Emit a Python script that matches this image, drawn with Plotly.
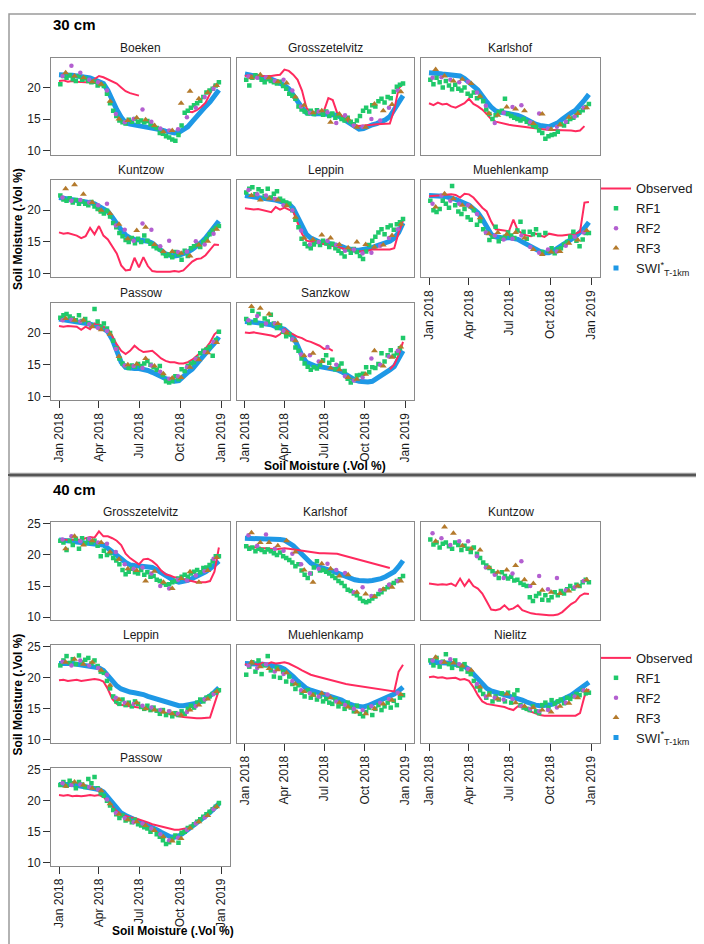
import pandas as pd
import plotly.graph_objects as go

W, H = 704, 944
N = None

# ---------------- shared axes data ----------------
line_dates = pd.date_range("2018-01-01", periods=37, freq="10D")
rf1_dates = pd.date_range("2018-01-04", periods=52, freq="7D")
rf2_dates = pd.date_range("2018-01-09", periods=18, freq="20D")
rf3_dates = pd.date_range("2018-01-16", periods=18, freq="20D")

tick_dates = ["2018-01-01", "2018-04-01", "2018-07-01", "2018-10-01", "2019-01-01"]
tick_labels = ["Jan 2018", "Apr 2018", "Jul 2018", "Oct 2018", "Jan 2019"]
y_ticks_30 = [10, 15, 20]
y_ticks_40 = [10, 15, 20, 25]
series_names = ["Observed", "RF1", "RF2", "RF3", "SWI<sup>*</sup><sub>T-1km</sub>"]

# ---------------- 30 cm ----------------
boeken30_swi = [22.0, 22.0, 22.0, 21.9, 21.8, 21.7, 21.6, 21.5, 21.2, 21.0, 20.6, 19.5, 17.8, 16.5, 15.3, 14.4, 14.2, 14.1, 14.0, 13.9, 13.8, 13.6, 13.5, 13.3, 13.1, 13.0, 12.8, 12.9, 13.3, 13.8, 14.6, 15.5, 16.3, 17.0, 17.7, 18.7, 19.6]
boeken30_obs = [21.0, 21.1, 20.9, 21.0, 20.9, 20.8, 20.8, 20.8, 21.3, 21.8, 21.6, 21.3, 21.0, 20.6, 20.0, 19.4, 19.1, 18.9, 18.7, N, N, N, N, N, N, N, N, N, N, 16.2, 16.1, 16.4, 16.9, 17.6, 19.0, 20.4, 20.3]
boeken30_rf1 = [20.5, 21.8, 21.5, 21.9, 21.3, 21.0, 21.8, 21.2, 21.4, 21.0, 20.8, 20.9, 20.3, 20.5, 20.2, 19.0, 17.5, 16.3, 15.5, 14.8, 14.5, 14.3, 14.9, 14.6, 15.0, 14.6, 14.8, 14.5, 14.7, 14.2, 13.9, 13.6, 12.8, 12.7, 12.3, 12.1, 11.8, 11.6, 12.5, 14.0, 16.0, 16.3, 16.8, 17.2, 17.5, 17.9, 18.5, 19.2, 19.5, 19.8, 20.3, 20.8]
boeken30_rf2 = [21.8, 23.4, 22.3, 21.2, 20.8, 19.5, 15.8, 14.5, 15.0, 16.5, 14.6, 13.5, 13.2, 13.4, 15.3, 16.8, 18.5, 19.8]
boeken30_rf3 = [22.3, 21.8, 21.5, 20.9, 20.5, 17.8, 15.0, 14.8, 15.2, 14.9, 14.0, 13.0, 13.2, 17.5, 19.4, 18.2, 19.2, 20.3]

grossz30_swi = [22.1, 22.0, 21.9, 21.8, 21.7, 21.6, 21.3, 21.0, 20.7, 20.3, 19.8, 18.8, 17.6, 16.8, 16.0, 15.8, 15.8, 15.9, 15.8, 15.8, 15.7, 15.6, 15.2, 14.7, 14.3, 13.8, 13.4, 13.5, 13.9, 14.1, 14.3, 14.5, 14.9, 15.4, 16.5, 17.5, 18.7]
grossz30_obs = [21.8, 21.9, 21.8, 21.8, 21.7, 21.8, 21.8, 21.9, 22.0, 22.8, 22.6, 22.0, 21.2, 19.5, 16.8, 16.0, 16.0, 16.1, 16.3, 18.3, 18.0, 16.0, 15.5, 14.9, 14.4, 14.1, 13.9, 14.0, 14.0, 14.1, 14.2, 14.2, 14.3, 14.3, 16.5, 19.8, 20.6]
grossz30_rf1 = [21.2, 20.3, 21.5, 21.9, 21.6, 21.2, 20.8, 21.3, 21.0, 20.8, 20.6, 20.9, 20.2, 19.8, 19.0, 18.7, 18.2, 17.0, 16.5, 16.2, 15.9, 16.3, 15.8, 16.4, 16.0, 15.7, 16.2, 15.5, 15.9, 15.2, 15.6, 15.0, 14.8, 15.2, 14.6, 14.2, 14.8, 15.5, 16.3, 16.8, 16.2, 17.2, 17.0, 17.8, 18.2, 17.6, 18.5, 18.3, 19.3, 20.1, 20.4, 20.6]
grossz30_rf2 = [21.7, 21.5, 21.6, 21.0, 21.2, 19.5, 17.0, 16.0, 16.2, 16.1, 14.4, 15.6, 14.0, 13.8, 15.0, 14.8, 16.8, 19.5]
grossz30_rf3 = [21.5, 22.0, 21.5, 20.9, 20.7, 18.5, 17.2, 16.0, 16.3, 14.5, 15.8, 15.0, 13.7, 13.7, 17.4, 16.3, 17.3, 19.3]

karls30_swi = [22.3, 22.3, 22.2, 22.1, 22.0, 21.9, 21.9, 21.8, 21.4, 20.7, 20.2, 19.6, 18.5, 17.7, 16.9, 16.3, 16.1, 16.0, 15.9, 15.8, 15.6, 15.3, 14.9, 14.5, 14.2, 14.0, 13.8, 13.8, 14.1, 14.4, 15.0, 15.6, 16.0, 16.4, 17.1, 18.0, 18.9]
karls30_obs = [17.5, 17.2, 17.6, 17.3, 17.4, 17.0, 16.8, 17.2, 17.5, 18.2, 17.4, 17.0, 16.5, 15.8, 15.0, 14.6, 14.4, 14.2, 14.1, 14.0, 13.9, 13.8, 13.7, 13.6, 13.5, 13.4, 13.3, 13.3, 13.3, 13.3, 13.2, 13.2, 13.2, 13.1, 13.2, 13.9, N]
karls30_rf1 = [21.2, 20.5, 21.5, 20.8, 20.0, 21.0, 20.3, 19.7, 20.4, 19.8, 19.5, 20.0, 19.0, 18.7, 19.2, 18.3, 18.5, 17.8, 16.5, 15.8, 15.0, 15.6, 16.1, 16.3, 18.2, 15.8, 15.5, 15.2, 15.0, 14.8, 15.0, 14.6, 14.3, 14.0, 13.8, 13.2, 12.8, 11.9, 12.3, 12.5, 12.6, 13.0, 14.2, 14.0, 14.6, 15.0, 15.2, 15.6, 16.1, 16.4, 16.9, 17.4]
karls30_rf2 = [21.5, 21.6, 21.2, 20.8, 20.9, 19.2, 17.1, 14.4, 16.0, 16.9, 17.2, 14.5, 15.9, 13.5, 13.8, 14.6, 15.4, 16.8]
karls30_rf3 = [22.8, 21.8, 21.0, 21.3, 20.6, 18.6, 15.9, 15.6, 16.9, 16.6, 16.3, 14.3, 15.8, 13.4, 14.1, 15.3, 15.9, 16.8]

kuntz30_swi = [22.0, 21.9, 21.8, 21.7, 21.6, 21.5, 21.3, 21.2, 21.0, 20.6, 20.3, 19.8, 18.9, 17.8, 16.9, 16.1, 15.6, 15.4, 15.3, 15.2, 15.1, 14.8, 14.2, 13.6, 13.1, 12.9, 12.8, 12.9, 13.1, 13.4, 13.8, 14.3, 14.9, 15.6, 16.5, 17.3, 18.3]
kuntz30_obs = [16.5, 16.3, 16.4, 16.2, 16.0, 15.6, 15.9, 17.2, 16.2, 17.5, 16.0, 15.4, 14.2, 13.2, 11.3, 10.5, 10.6, 12.5, 11.0, 12.6, 11.2, 10.4, 10.3, 10.3, 10.2, 10.3, 10.4, 10.3, 10.5, 11.2, 11.9, 12.3, 12.4, 12.9, 13.8, 14.6, 14.5]
kuntz30_rf1 = [22.3, 21.7, 21.5, 21.9, 21.2, 21.6, 21.0, 21.4, 21.0, 20.8, 21.3, 20.6, 20.2, 19.8, 19.5, 19.9, 19.0, 18.0, 17.3, 16.4, 15.9, 15.3, 15.0, 15.6, 14.8, 15.5, 15.0, 16.0, 15.2, 14.7, 14.3, 14.0, 13.8, 13.2, 12.8, 13.0, 12.6, 13.4, 13.0, 12.2, 13.6, 12.8, 14.0, 14.3, 14.6, 14.2, 15.0, 15.5, 16.2, 16.8, 17.2, 17.5]
kuntz30_rf2 = [22.0, 21.5, 21.6, 21.2, 20.8, 21.0, 17.6, 16.9, 15.2, 17.9, 16.9, 14.3, 15.2, 13.4, 13.5, 15.1, 14.6, 16.3]
kuntz30_rf3 = [23.4, 24.0, 22.5, 21.2, 20.0, 19.5, 17.8, 15.5, 16.8, 17.3, 14.6, 13.5, 13.5, 13.2, 12.8, 14.5, 15.1, 17.0]

leppin30_swi = [22.3, 22.2, 22.2, 22.1, 22.0, 21.9, 21.8, 21.6, 21.4, 21.2, 21.0, 20.3, 18.9, 17.4, 16.2, 15.6, 15.2, 15.0, 14.9, 14.8, 14.7, 14.6, 14.3, 14.0, 13.8, 13.7, 13.7, 13.8, 13.9, 14.1, 14.4, 14.6, 14.8, 15.1, 15.6, 16.5, 18.0]
leppin30_obs = [20.3, 20.2, 20.1, 20.2, 20.0, 19.8, 19.7, 20.5, 20.1, 20.4, 20.1, 19.8, 18.0, 16.3, 15.2, 15.0, 14.9, 14.8, 14.7, 14.5, 14.4, 14.2, 14.0, 13.8, 13.6, 13.5, 13.5, 13.5, 13.6, 13.8, 13.8, 13.8, 13.8, 13.8, 14.0, 16.5, 18.3]
leppin30_rf1 = [22.8, 23.4, 23.6, 22.5, 23.3, 23.0, 22.2, 23.4, 22.0, 22.6, 23.0, 21.8, 21.5, 21.2, 21.0, 20.0, 18.5, 17.3, 15.5, 14.7, 14.3, 14.0, 14.6, 15.0, 14.5, 15.2, 14.8, 14.2, 14.7, 14.0, 13.6, 13.2, 12.7, 13.8, 13.3, 13.9, 13.4, 12.8, 12.3, 13.5, 14.5, 15.2, 15.8, 16.5, 17.0, 16.2, 17.3, 17.6, 16.9, 17.8, 18.1, 18.6]
leppin30_rf2 = [23.2, 22.5, 22.3, 21.8, 20.8, 20.0, 16.8, 14.6, 15.0, 15.2, 14.5, 13.6, 13.8, 13.2, 13.3, 14.4, 15.6, 17.0]
leppin30_rf3 = [22.3, 21.6, 21.8, 21.6, 20.7, 18.9, 15.6, 15.4, 16.1, 15.6, 14.6, 14.1, 15.0, 14.6, 14.2, 14.5, 16.0, 17.8]

muehl30_swi = [22.3, 22.3, 22.3, 22.2, 22.1, 22.0, 21.7, 21.4, 21.1, 20.8, 20.2, 19.6, 18.6, 17.2, 16.2, 15.8, 15.6, 15.6, 15.7, 15.6, 15.4, 15.0, 14.6, 14.2, 13.8, 13.5, 13.3, 13.3, 13.6, 14.0, 14.5, 15.0, 15.4, 15.9, 16.5, 17.2, 18.1]
muehl30_obs = [22.2, 22.2, 22.3, 22.4, 22.5, 22.5, 22.4, 22.0, 22.6, 22.5, 22.0, 21.2, 20.4, 19.8, 18.2, 17.0, 16.9, 16.8, 16.7, 18.5, 16.8, 16.3, 16.0, 15.9, 16.3, 16.0, 15.8, 16.3, 16.1, 16.0, 16.0, 16.1, 16.2, 16.3, 16.6, 21.2, 21.3]
muehl30_rf1 = [21.5, 20.0, 19.7, 20.2, 21.5, 21.0, 20.4, 23.8, 20.8, 19.8, 19.4, 20.2, 18.9, 18.5, 20.0, 17.7, 18.3, 17.0, 16.5, 15.3, 15.8, 17.4, 15.1, 15.5, 15.8, 16.5, 16.0, 15.6, 16.8, 18.2, 16.6, 15.5, 16.6, 16.2, 17.0, 16.1, 13.4, 16.4, 13.6, 14.0, 13.2, 13.8, 14.0, 14.6, 15.0, 15.8, 16.6, 15.2, 14.3, 15.4, 16.4, 16.4]
muehl30_rf2 = [21.0, 22.3, 21.5, 21.0, 20.8, 19.4, 16.5, 16.0, 15.4, 15.5, 16.0, 14.2, 13.3, 13.8, 13.5, 14.4, 15.8, 16.5]
muehl30_rf3 = [20.5, 22.6, 21.8, 20.8, 20.5, 18.8, 16.3, 16.5, 16.2, 16.5, 15.6, 13.8, 13.0, 13.4, 13.5, 14.8, 15.3, 16.8]

passow30_swi = [22.2, 22.1, 22.0, 21.9, 21.8, 21.7, 21.6, 21.4, 21.2, 21.0, 20.7, 20.2, 19.0, 17.2, 15.4, 14.6, 14.4, 14.4, 14.4, 14.3, 14.1, 13.8, 13.4, 13.1, 12.8, 12.6, 12.4, 12.5, 13.2, 13.8, 14.3, 15.2, 16.0, 16.8, 17.6, 18.4, 19.4]
passow30_obs = [21.1, 21.0, 21.1, 21.0, 21.0, 20.5, 21.0, 20.6, 21.5, 21.4, 21.0, 20.6, 19.5, 18.2, 17.2, 16.7, 17.2, 18.0, 17.4, 17.0, 17.1, 17.2, 16.6, 16.0, 15.6, 15.4, 15.4, 15.2, 15.2, 15.4, 15.8, 16.4, 17.0, 17.6, 18.5, 19.8, 20.4]
passow30_rf1 = [22.4, 22.8, 23.0, 22.6, 22.3, 22.0, 22.8, 21.9, 22.2, 21.6, 21.2, 23.8, 21.8, 21.0, 21.5, 20.7, 20.0, 18.8, 17.6, 16.0, 15.2, 14.8, 14.5, 14.9, 14.7, 15.1, 14.8, 15.2, 15.6, 15.0, 14.6, 14.2, 14.8, 13.4, 12.4, 12.2, 12.4, 13.2, 12.7, 14.3, 14.0, 14.8, 15.2, 15.4, 16.0, 16.8, 17.2, 17.4, 17.8, 16.4, 18.9, 20.2]
passow30_rf2 = [22.0, 22.1, 21.8, 21.4, 20.8, 20.3, 17.5, 14.9, 14.8, 14.5, 14.9, 13.9, 12.8, 13.2, 14.6, 15.9, 17.0, 18.6]
passow30_rf3 = [22.3, 22.0, 22.0, 21.0, 20.5, 19.8, 16.3, 15.0, 15.1, 16.0, 14.8, 13.6, 12.9, 13.0, 14.6, 15.8, 16.9, 18.5]

sanzk30_swi = [21.8, 21.8, 21.7, 21.6, 21.5, 21.4, 21.3, 21.0, 20.7, 20.6, 20.0, 19.4, 18.0, 16.4, 15.4, 15.0, 14.8, 14.7, 14.6, 14.6, 14.4, 14.2, 13.9, 13.4, 12.9, 12.6, 12.4, 12.3, 12.3, 12.4, 12.8, 13.3, 13.7, 14.2, 14.7, 15.8, 17.2]
sanzk30_obs = [20.1, 20.0, 20.1, 20.0, 19.9, 19.8, 19.6, 19.4, 19.8, 20.6, 20.1, 19.8, 19.4, 19.2, 18.8, 18.6, 18.3, 18.0, 17.5, 17.6, 17.2, N, N, N, N, N, N, N, N, N, N, N, N, 14.3, 15.0, 16.5, 18.6]
sanzk30_rf1 = [22.2, 21.6, 23.5, 22.0, 23.0, 21.2, 22.3, 21.8, 22.9, 21.5, 20.8, 21.2, 20.2, 19.5, 19.8, 19.0, 17.7, 17.2, 16.0, 15.2, 14.7, 14.2, 14.6, 14.4, 15.0, 15.7, 16.5, 15.3, 15.8, 14.3, 14.8, 15.2, 14.0, 12.8, 12.2, 12.6, 13.3, 13.4, 13.6, 14.6, 13.8, 14.6, 14.5, 15.1, 16.8, 15.5, 16.5, 17.3, 16.4, 16.8, 17.6, 19.2]
sanzk30_rf2 = [22.0, 22.7, 21.5, 21.5, 20.3, 19.0, 16.6, 16.5, 15.5, 17.8, 15.0, 13.2, 12.5, 13.0, 16.0, 15.0, 16.3, 17.2]
sanzk30_rf3 = [24.2, 23.9, 23.0, 21.5, 20.0, 18.8, 16.4, 16.8, 15.5, 14.5, 14.2, 13.0, 12.7, 13.5, 17.2, 14.8, 16.2, 17.8]

# ---------------- 40 cm ----------------
grossz40_swi = [22.4, 22.4, 22.3, 22.2, 22.1, 22.0, 21.9, 21.9, 21.8, 21.8, 21.6, 21.1, 20.6, 20.0, 19.4, 18.8, 18.4, 18.3, 18.2, 18.2, 18.1, 18.0, 17.6, 17.1, 16.7, 16.2, 15.8, 15.6, 15.7, 15.9, 16.2, 16.5, 16.8, 17.3, 17.8, 18.4, 19.0]
grossz40_obs = [22.4, 22.4, 22.5, 22.5, 22.4, 22.5, 22.7, 22.9, 22.8, 23.8, 23.0, 23.0, 22.7, 22.3, 21.6, 20.2, 19.5, 19.0, 18.5, 19.3, 19.4, 19.0, 18.4, 17.5, 16.9, 16.7, 16.4, 16.3, 16.1, 16.0, 15.8, 15.6, 15.6, 15.6, 15.8, 17.3, 21.2]
grossz40_rf1 = [22.3, 22.0, 20.8, 22.3, 21.6, 22.6, 21.0, 22.7, 21.9, 22.5, 22.0, 22.3, 21.5, 19.8, 20.7, 20.0, 20.3, 19.5, 19.1, 18.5, 17.6, 16.9, 17.3, 17.8, 17.2, 17.0, 17.6, 16.8, 17.2, 16.5, 16.6, 16.0, 15.8, 15.5, 15.2, 15.3, 15.6, 15.8, 16.2, 16.5, 16.8, 16.5, 17.0, 17.3, 17.6, 17.2, 17.9, 18.0, 18.4, 19.0, 19.8, 19.8]
grossz40_rf2 = [22.5, 23.0, 22.2, 22.6, 22.0, 21.8, 20.5, 18.5, 17.8, 18.0, 17.0, 15.0, 14.6, 16.0, 15.9, 16.7, 17.4, 19.4]
grossz40_rf3 = [21.0, 23.0, 21.6, 22.3, 22.0, 20.5, 19.3, 17.8, 17.5, 15.8, 17.4, 15.6, 14.6, 16.2, 17.3, 15.6, 17.5, 19.6]

karls40_swi = [22.7, 22.7, 22.7, 22.7, 22.7, 22.7, 22.6, 22.6, 22.5, 22.4, 22.0, 21.5, 20.8, 20.0, 19.2, 18.7, 18.3, 18.0, 17.8, 17.6, 17.4, 17.1, 16.9, 16.6, 16.3, 16.0, 15.9, 15.8, 15.8, 15.9, 16.0, 16.2, 16.5, 16.9, 17.3, 18.1, 19.1]
karls40_obs = [21.4, 21.3, 21.3, 21.2, 21.1, 21.1, 21.0, 20.9, 21.0, 21.1, 21.0, 20.9, 20.8, 20.6, 20.5, 20.4, 20.3, 20.3, 20.3, 20.3, 20.3, 20.2, 20.0, 19.8, 19.6, 19.4, 19.2, 19.0, 18.8, 18.6, 18.4, 18.3, 18.1, 17.9, N, N, N]
karls40_rf1 = [21.4, 21.0, 21.2, 20.6, 21.0, 20.8, 20.5, 20.9, 20.6, 20.3, 20.0, 20.4, 19.8, 19.5, 19.2, 18.8, 18.2, 18.5, 17.5, 16.8, 16.3, 17.0, 18.0, 19.0, 17.5, 17.6, 17.3, 17.0, 16.6, 16.3, 15.8, 15.5, 15.0, 14.4, 14.2, 13.8, 13.5, 13.0, 12.6, 12.4, 12.6, 13.0, 13.3, 13.7, 14.0, 14.5, 14.8, 15.2, 15.5, 15.8, 16.1, 16.6]
karls40_rf2 = [23.2, 21.5, 23.3, 21.0, 20.7, 20.2, 18.5, 17.0, 17.8, 18.6, 17.6, 17.1, 14.0, 14.8, 13.4, 14.3, 15.2, 15.8]
karls40_rf3 = [23.6, 22.0, 22.0, 21.5, 22.3, 20.5, 17.6, 15.6, 18.6, 17.8, 16.6, 16.8, 14.0, 13.7, 13.3, 14.5, 14.8, 15.8]

kuntz40_swi = [N] * 37
kuntz40_obs = [15.4, 15.3, 15.2, 15.3, 15.2, 15.4, 15.0, 16.2, 15.0, 16.0, 15.0, 14.6, 13.8, 12.5, 11.2, 11.1, 11.3, 11.9, 11.2, 11.4, 11.9, 11.1, 10.8, 10.6, 10.5, 10.4, 10.4, 10.3, 10.3, 10.4, 10.8, 11.5, 12.1, 12.5, 13.4, 13.8, 13.7]
kuntz40_rf1 = [22.5, 21.7, 22.0, 21.2, 21.8, 22.0, 21.4, 21.0, 22.0, 21.6, 20.8, 21.5, 21.0, 20.5, 21.2, 20.2, 19.5, 18.8, 18.3, 17.9, 17.4, 17.0, 16.3, 17.2, 16.6, 16.2, 16.5, 15.9, 16.0, 15.5, 15.2, 15.0, 13.2, 12.6, 13.4, 13.8, 12.8, 13.5, 12.7, 13.2, 14.0, 13.5, 14.2, 13.8, 14.5, 15.0, 14.6, 15.2, 15.0, 15.6, 16.0, 15.6]
kuntz40_rf2 = [23.5, 22.7, 21.6, 22.2, 22.2, 19.8, 18.0, 16.8, 16.3, 17.0, 19.0, 15.0, 16.6, 14.5, 16.3, 14.3, 14.8, 15.8]
kuntz40_rf3 = [22.2, 24.5, 23.5, 21.5, 21.0, 20.8, 18.0, 17.2, 17.6, 18.3, 16.0, 15.4, 14.3, 14.0, 13.8, 14.2, 15.0, 16.0]

leppin40_swi = [22.3, 22.4, 22.3, 22.3, 22.2, 22.1, 22.0, 21.9, 21.8, 21.6, 21.2, 20.4, 19.5, 18.7, 18.2, 17.9, 17.7, 17.6, 17.5, 17.3, 17.0, 16.8, 16.6, 16.3, 16.0, 15.8, 15.6, 15.5, 15.5, 15.6, 15.7, 15.9, 16.2, 16.6, 17.1, 17.7, 18.4]
leppin40_obs = [19.6, 19.7, 19.5, 19.6, 19.7, 19.5, 19.6, 19.6, 19.8, 19.7, 19.4, 18.2, 16.6, 15.8, 15.6, 15.5, 15.4, 15.3, 15.3, 15.2, 15.0, 14.9, 14.7, 14.5, 14.3, 14.1, 13.9, 13.8, 13.7, 13.6, 13.6, 13.5, 13.5, 13.5, 13.6, 15.8, 18.0]
leppin40_rf1 = [22.0, 22.8, 23.5, 22.4, 23.0, 22.2, 23.6, 22.5, 22.9, 23.2, 22.3, 22.8, 21.9, 21.0, 20.8, 19.5, 18.3, 17.0, 16.2, 15.8, 16.5, 15.6, 16.0, 15.4, 16.2, 15.8, 15.3, 15.0, 15.5, 14.8, 15.2, 14.7, 14.2, 14.8, 14.0, 14.5, 13.8, 14.3, 14.0, 14.6, 14.2, 15.0, 15.5, 15.2, 16.0, 16.5, 16.2, 16.8, 17.0, 17.4, 17.6, 18.0]
leppin40_rf2 = [22.6, 22.0, 22.8, 22.0, 21.6, 20.5, 16.8, 16.0, 15.8, 15.5, 15.2, 14.8, 14.6, 14.2, 14.5, 15.4, 16.5, 17.4]
leppin40_rf3 = [22.5, 23.0, 22.2, 22.5, 21.2, 18.8, 16.5, 15.8, 16.0, 15.0, 14.8, 14.5, 14.2, 14.0, 14.8, 15.6, 16.6, 17.8]

muehl40_swi = [22.3, 22.3, 22.4, 22.3, 22.2, 22.1, 22.0, 21.9, 21.7, 21.4, 20.9, 20.2, 19.5, 18.8, 18.3, 18.0, 17.8, 17.6, 17.4, 17.2, 17.0, 16.7, 16.4, 16.0, 15.7, 15.5, 15.4, 15.3, 15.5, 15.8, 16.1, 16.4, 16.7, 17.0, 17.4, 17.9, 18.5]
muehl40_obs = [22.2, 22.0, 22.3, 22.1, 22.4, 22.2, 22.5, 22.3, 22.4, 22.5, 22.3, 22.0, 21.6, 21.2, 20.8, 20.5, 20.3, 20.1, 19.9, 19.7, 19.5, 19.3, 19.1, 19.0, 18.9, 18.8, 18.6, 18.5, 18.4, 18.3, 18.2, 18.1, 18.0, 17.9, 17.8, 21.0, 22.1]
muehl40_rf1 = [20.5, 21.8, 22.5, 21.0, 22.8, 20.6, 22.0, 23.5, 21.2, 20.2, 21.6, 20.0, 21.0, 19.4, 20.2, 19.0, 18.2, 18.8, 17.6, 17.0, 18.0, 16.8, 17.3, 16.5, 17.0, 16.2, 16.6, 16.0, 15.8, 16.5, 15.4, 15.8, 15.0, 16.0, 15.2, 14.6, 15.5, 14.2, 13.8, 14.5, 15.2, 14.0, 15.0, 15.6, 14.8, 15.4, 16.0, 15.2, 16.3, 15.6, 16.8, 17.2]
muehl40_rf2 = [22.0, 21.6, 22.2, 21.0, 20.6, 19.5, 18.0, 17.5, 17.0, 17.3, 16.2, 15.6, 15.0, 14.8, 15.4, 16.0, 16.6, 17.6]
muehl40_rf3 = [22.5, 21.8, 21.5, 21.3, 20.8, 19.0, 17.8, 17.2, 17.5, 16.8, 16.0, 15.3, 14.5, 14.2, 15.0, 15.8, 16.4, 17.3]

nielitz40_swi = [22.5, 22.5, 22.6, 22.5, 22.4, 22.3, 22.2, 22.0, 21.8, 21.4, 20.6, 19.8, 19.0, 18.3, 17.9, 17.7, 17.5, 17.3, 17.2, 17.0, 16.7, 16.4, 16.1, 15.8, 15.6, 15.5, 15.5, 15.6, 15.8, 16.1, 16.4, 16.8, 17.2, 17.7, 18.2, 18.7, 19.3]
nielitz40_obs = [20.1, 20.2, 20.0, 20.1, 19.9, 20.0, 20.0, 19.7, 19.8, 19.5, 18.5, 17.2, 16.2, 15.8, 15.7, 15.6, 15.4, 15.3, 15.0, 14.8, 15.4, 15.3, 14.8, 14.5, 14.2, 14.0, 13.9, 13.9, 13.9, 13.9, 13.9, 13.9, 13.9, 13.9, 14.3, 17.0, 18.2]
nielitz40_rf1 = [22.8, 22.0, 23.2, 21.8, 22.6, 23.8, 22.2, 21.6, 22.8, 22.0, 21.4, 22.2, 21.0, 20.6, 19.5, 18.6, 18.0, 17.4, 16.8, 17.5, 16.2, 17.0, 16.5, 17.5, 16.2, 17.6, 16.0, 17.3, 18.0, 15.6, 15.2, 15.0, 14.8, 15.4, 14.6, 14.3, 15.6, 16.0, 15.2, 16.4, 15.8, 16.2, 16.5, 15.9, 16.8, 16.6, 17.0, 17.4, 17.2, 18.0, 17.5, 17.6]
nielitz40_rf2 = [22.8, 22.5, 23.0, 22.2, 21.4, 19.0, 17.0, 16.8, 16.5, 16.6, 15.4, 15.0, 14.6, 14.8, 15.2, 16.0, 17.0, 18.0]
nielitz40_rf3 = [23.3, 22.5, 22.4, 21.9, 21.2, 18.5, 17.2, 16.6, 17.4, 16.0, 15.4, 15.2, 14.8, 14.5, 15.4, 15.9, 16.8, 17.9]

passow40_swi = [22.6, 22.7, 22.6, 22.6, 22.5, 22.4, 22.3, 22.1, 22.0, 21.8, 21.4, 20.6, 19.6, 18.7, 18.0, 17.6, 17.3, 17.0, 16.7, 16.4, 16.1, 15.7, 15.3, 14.9, 14.5, 14.2, 14.1, 14.3, 14.8, 15.3, 15.8, 16.3, 16.9, 17.5, 18.1, 18.8, 19.5]
passow40_obs = [20.9, 20.8, 20.9, 20.7, 20.8, 20.7, 20.8, 20.9, 20.8, 20.9, 20.6, 19.8, 19.0, 18.3, 17.8, 17.5, 17.3, 17.2, 17.0, 16.8, 16.5, 16.2, 16.0, 15.8, 15.6, 15.4, 15.3, 15.3, 15.4, 15.6, 16.0, 16.5, 17.0, 17.6, 18.3, 19.0, 19.6]
passow40_rf1 = [22.5, 23.0, 22.4, 23.2, 22.8, 22.0, 23.0, 22.6, 22.2, 23.5, 22.8, 23.8, 22.0, 21.2, 20.8, 20.0, 19.2, 18.5, 17.8, 17.2, 17.6, 16.8, 17.0, 16.5, 16.9, 16.2, 16.0, 15.7, 15.5, 15.0, 15.3, 14.6, 14.2, 13.6, 13.0, 13.3, 13.8, 14.4, 13.2, 14.8, 15.0, 15.6, 15.8, 16.2, 16.6, 17.0, 17.4, 17.8, 18.2, 18.6, 19.0, 19.6]
passow40_rf2 = [22.8, 22.5, 22.6, 22.2, 21.8, 20.2, 18.0, 17.2, 16.5, 16.3, 15.5, 14.6, 13.6, 14.0, 15.3, 16.3, 17.3, 18.6]
passow40_rf3 = [22.3, 23.0, 22.5, 22.0, 21.6, 19.5, 17.8, 16.9, 16.6, 16.0, 15.2, 14.2, 13.5, 13.9, 15.6, 16.6, 17.6, 19.0]

# ---------------- panel definitions ----------------
panel30 = [
    ("Boeken", 0, 0, boeken30_obs, boeken30_rf1, boeken30_rf2, boeken30_rf3, boeken30_swi),
    ("Grosszetelvitz", 0, 1, grossz30_obs, grossz30_rf1, grossz30_rf2, grossz30_rf3, grossz30_swi),
    ("Karlshof", 0, 2, karls30_obs, karls30_rf1, karls30_rf2, karls30_rf3, karls30_swi),
    ("Kuntzow", 1, 0, kuntz30_obs, kuntz30_rf1, kuntz30_rf2, kuntz30_rf3, kuntz30_swi),
    ("Leppin", 1, 1, leppin30_obs, leppin30_rf1, leppin30_rf2, leppin30_rf3, leppin30_swi),
    ("Muehlenkamp", 1, 2, muehl30_obs, muehl30_rf1, muehl30_rf2, muehl30_rf3, muehl30_swi),
    ("Passow", 2, 0, passow30_obs, passow30_rf1, passow30_rf2, passow30_rf3, passow30_swi),
    ("Sanzkow", 2, 1, sanzk30_obs, sanzk30_rf1, sanzk30_rf2, sanzk30_rf3, sanzk30_swi),
]
panel40 = [
    ("Grosszetelvitz", 0, 0, grossz40_obs, grossz40_rf1, grossz40_rf2, grossz40_rf3, grossz40_swi),
    ("Karlshof", 0, 1, karls40_obs, karls40_rf1, karls40_rf2, karls40_rf3, karls40_swi),
    ("Kuntzow", 0, 2, kuntz40_obs, kuntz40_rf1, kuntz40_rf2, kuntz40_rf3, kuntz40_swi),
    ("Leppin", 1, 0, leppin40_obs, leppin40_rf1, leppin40_rf2, leppin40_rf3, leppin40_swi),
    ("Muehlenkamp", 1, 1, muehl40_obs, muehl40_rf1, muehl40_rf2, muehl40_rf3, muehl40_swi),
    ("Nielitz", 1, 2, nielitz40_obs, nielitz40_rf1, nielitz40_rf2, nielitz40_rf3, nielitz40_swi),
    ("Passow", 2, 0, passow40_obs, passow40_rf1, passow40_rf2, passow40_rf3, passow40_swi),
]

# ---------------- styling ----------------
FONT = "Liberation Sans, Arial, sans-serif"
C_OBS = "#FF2A5E"
C_RF1 = "#1FC96A"
C_RF2 = "#B35FD0"
C_RF3 = "#B47A2C"
C_SWI = "#1E98E6"
FRAME = "#8a8a8a"
TXT = "#1a1a1a"

COLS = [(43, 222), (229, 406), (413, 592)]
ROWS30 = [(45, 143), (169, 267), (293, 391)]
ROWS40 = [(514, 613), (638, 737), (762, 861)]
XRANGE = ["2017-12-14", "2019-01-21"]


def px(v):
    return v / W


def py(v):
    return 1 - v / H


fig = go.Figure()
layout = {}
annotations = []
k = 0

for panel, rows, yrange, yticks, legname in [
    (panel30, ROWS30, [9.4, 24.7], y_ticks_30, "legend"),
    (panel40, ROWS40, [9.5, 25.3], y_ticks_40, "legend2"),
]:
    occupied = {(r, c) for (_, r, c, *_rest) in panel}
    first = True
    for name, r, c, obs, rf1, rf2, rf3, swi in panel:
        k += 1
        xa = "x" if k == 1 else f"x{k}"
        ya = "y" if k == 1 else f"y{k}"
        xkey = "xaxis" if k == 1 else f"xaxis{k}"
        ykey = "yaxis" if k == 1 else f"yaxis{k}"
        x0, x1 = COLS[c]
        y0, y1 = rows[r]
        bottom = (r + 1, c) not in occupied
        left = c == 0
        layout[xkey] = dict(
            domain=[px(x0), px(x1)], anchor=ya, type="date", range=XRANGE,
            showline=True, mirror=True, linecolor=FRAME, linewidth=1,
            showgrid=False, zeroline=False,
            tickmode="array", tickvals=tick_dates, ticktext=tick_labels,
            ticks="outside" if bottom else "", ticklen=7, tickcolor="#333",
            showticklabels=bottom, tickangle=-90,
            tickfont=dict(family=FONT, size=12, color=TXT),
        )
        layout[ykey] = dict(
            domain=[py(y1), py(y0)], anchor=xa, range=yrange,
            showline=True, mirror=True, linecolor=FRAME, linewidth=1,
            showgrid=False, zeroline=False,
            tickmode="array", tickvals=yticks,
            ticks="outside" if left else "", ticklen=7, tickcolor="#333",
            showticklabels=left,
            tickfont=dict(family=FONT, size=12, color=TXT),
        )
        annotations.append(dict(
            text=name, x=px((x0 + x1) / 2), y=py(y0 - 10), xref="paper", yref="paper",
            showarrow=False, xanchor="center", yanchor="middle",
            font=dict(family=FONT, size=12, color=TXT),
        ))
        fig.add_trace(go.Scatter(
            x=line_dates, y=swi, mode="lines", xaxis=xa, yaxis=ya,
            line=dict(color=C_SWI, width=5), showlegend=False, legend=legname,
        ))
        fig.add_trace(go.Scatter(
            x=line_dates, y=obs, mode="lines", xaxis=xa, yaxis=ya, name=series_names[0],
            line=dict(color=C_OBS, width=2), showlegend=first, legend=legname, legendrank=1,
        ))
        fig.add_trace(go.Scatter(
            x=rf1_dates, y=rf1, mode="markers", xaxis=xa, yaxis=ya, name=series_names[1],
            marker=dict(color=C_RF1, size=4.5, symbol="square"),
            showlegend=first, legend=legname, legendrank=2,
        ))
        fig.add_trace(go.Scatter(
            x=rf2_dates, y=rf2, mode="markers", xaxis=xa, yaxis=ya, name=series_names[2],
            marker=dict(color=C_RF2, size=4.5, symbol="circle"),
            showlegend=first, legend=legname, legendrank=3,
        ))
        fig.add_trace(go.Scatter(
            x=rf3_dates, y=rf3, mode="markers", xaxis=xa, yaxis=ya, name=series_names[3],
            marker=dict(color=C_RF3, size=6, symbol="triangle-up"),
            showlegend=first, legend=legname, legendrank=4,
        ))
        if first:
            # legend-only entry for SWI (blue square key)
            fig.add_trace(go.Scatter(
                x=[None], y=[None], mode="markers", xaxis=xa, yaxis=ya, name=series_names[4],
                marker=dict(color=C_SWI, size=5, symbol="square"),
                showlegend=True, legend=legname, legendrank=5,
            ))
        first = False

# panel labels and axis titles
for txt, y in [("30 cm", 12), ("40 cm", 481)]:
    annotations.append(dict(text=f"<b>{txt}</b>", x=px(43), y=py(y), xref="paper", yref="paper",
                            showarrow=False, xanchor="left", yanchor="middle",
                            font=dict(family=FONT, size=15, color="#000")))
for yc in [218, 688]:
    annotations.append(dict(text="<b>Soil Moisture (.Vol %)</b>", x=px(10), y=py(yc),
                            xref="paper", yref="paper", showarrow=False, textangle=-90,
                            xanchor="center", yanchor="middle",
                            font=dict(family=FONT, size=12, color="#000")))
for xc, yc in [(317, 457), (165, 927)]:
    annotations.append(dict(text="<b>Soil Moisture (.Vol %)</b>", x=px(xc), y=py(yc),
                            xref="paper", yref="paper", showarrow=False,
                            xanchor="center", yanchor="middle",
                            font=dict(family=FONT, size=12, color="#000")))

shapes = [
    dict(type="rect", xref="paper", yref="paper", x0=px(1), x1=px(703), y0=py(465), y1=py(1),
         line=dict(color="#9a9a9a", width=1.5)),
    dict(type="rect", xref="paper", yref="paper", x0=px(1), x1=px(703), y0=py(943), y1=py(468),
         line=dict(color="#9a9a9a", width=1.5)),
    dict(type="line", xref="paper", yref="paper", x0=0, x1=1, y0=py(466.5), y1=py(466.5),
         line=dict(color="#555", width=2)),
]

legend_style = dict(
    xanchor="left", yanchor="top", bgcolor="rgba(0,0,0,0)", borderwidth=0,
    font=dict(family=FONT, size=13, color=TXT), tracegroupgap=0, itemwidth=30,
)

fig.update_layout(
    width=W, height=H, margin=dict(l=0, r=0, t=0, b=0),
    paper_bgcolor="white", plot_bgcolor="white",
    annotations=annotations, shapes=shapes,
    legend=dict(x=px(588), y=py(162), **legend_style),
    legend2=dict(x=px(588), y=py(636), **legend_style),
    **layout,
)

fig.write_html("out.html")
